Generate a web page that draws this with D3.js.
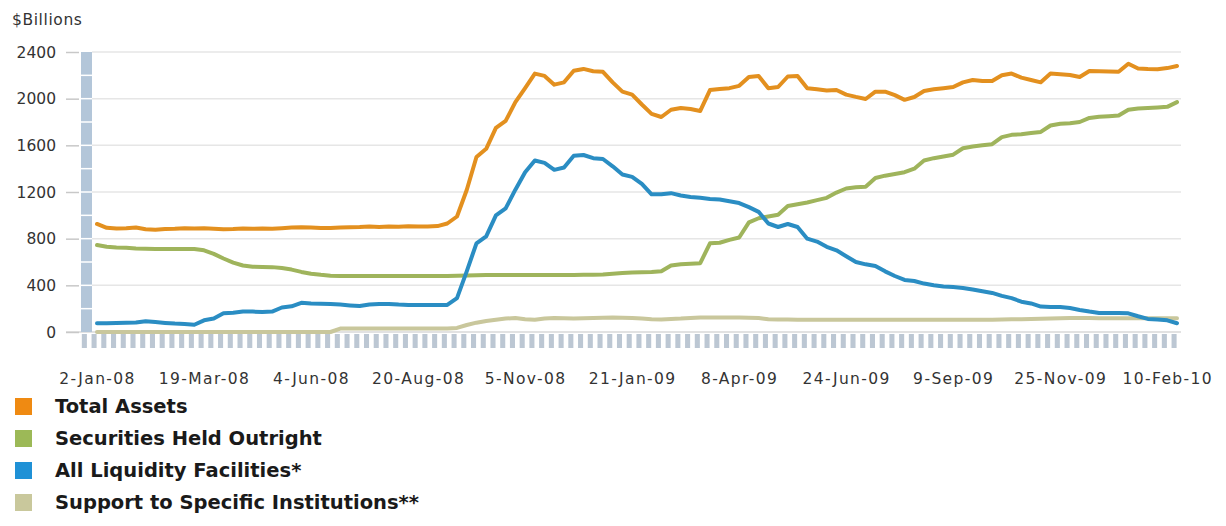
<!DOCTYPE html>
<html>
<head>
<meta charset="utf-8">
<script src="https://cdn.jsdelivr.net/npm/d3@7"></script>
<style>
  html, body { margin: 0; padding: 0; background: #ffffff; }
  svg { display: block; }
  text { font-family: "DejaVu Sans", Verdana, sans-serif; }
</style>
</head>
<body>
<svg id="chart" width="1226" height="526"></svg>
<script>
// ---------- data (weekly, Wednesdays, 2-Jan-08 .. 17-Feb-10) ----------
const startDate = "2008-01-02";
const seriesNames = ["Total Assets", "Securities Held Outright", "All Liquidity Facilities*", "Support to Specific Institutions**"];
const seriesColors = ["#e3901f", "#9fb45c", "#2a8dc3", "#c9c79c"];
const legendColors = ["#ef8a12", "#9cb957", "#1f91d6", "#c9c89c"];

const totalAssets = [926, 893, 888, 890, 895, 880, 876, 882, 885, 890, 888, 890, 885, 880, 882, 887, 884, 888, 885, 890, 895, 898, 895, 892, 892, 895, 897, 900, 905, 900, 905, 902, 907, 905, 905, 908, 930,
  990, 1217, 1500, 1570, 1750, 1810, 1970, 2090, 2215, 2195, 2120, 2140, 2240, 2255, 2235, 2230, 2140, 2060, 2035, 1950, 1870, 1843, 1905, 1920, 1911, 1895, 2074, 2083, 2090, 2110, 2185, 2194, 2090, 2100, 2190, 2195, 2090, 2080, 2070, 2074, 2035, 2015, 1997, 2060, 2060, 2030, 1990, 2014, 2066, 2080, 2090, 2100, 2140, 2160, 2151, 2151, 2200, 2215, 2180, 2160, 2140, 2215, 2210, 2203, 2186, 2237, 2235, 2232, 2230, 2300, 2258, 2254, 2252, 2262, 2280];

const securitiesHeld = [745, 730, 725, 722, 715, 713, 712, 712, 712, 712, 712,
  700, 670, 630, 595, 570, 560, 558, 556, 548, 535, 515, 500, 490, 483,
  480, 480, 480, 480, 480, 480, 480, 480, 480, 480, 480, 480, 482, 485, 487, 488, 489, 489, 489, 489, 489, 489, 489, 489, 489, 490, 490, 492,
  500, 505, 510, 512, 514, 520, 570, 580, 585, 590, 760, 765, 790, 810, 940, 975, 990, 1005, 1080, 1095, 1110, 1130, 1150, 1195, 1230, 1240, 1245, 1320, 1340, 1355, 1370, 1400, 1470, 1490, 1505, 1520, 1575, 1590, 1600, 1610, 1670, 1690, 1695, 1705, 1715, 1770, 1785, 1790, 1800, 1835, 1845, 1850, 1855, 1905, 1915, 1920, 1925, 1930, 1970];

const liquidityFacilities = [75, 75, 78, 80, 82, 92, 85, 78, 72, 68, 62,
  100, 115, 160, 165, 175, 175, 172, 175, 210, 220, 250, 245, 242, 240, 235, 228, 222, 235, 240, 240,
  235, 232, 232, 232, 232, 232, 290, 520, 760, 820, 1000, 1060, 1220, 1370, 1470, 1450, 1390, 1410, 1510, 1517, 1490, 1483, 1420, 1350, 1330, 1270, 1180, 1180, 1190, 1170, 1157, 1150, 1140, 1135, 1120, 1105, 1070, 1030, 930, 900, 926, 900, 800, 775, 730, 700, 650, 600, 580, 566, 520, 480, 446, 437, 415, 400, 390, 385, 378, 365, 350, 335, 310, 290, 260, 245, 218, 214, 214, 205, 189, 175, 163, 163, 163, 160, 135, 112, 108, 100, 75];

const supportInstitutions = [0, 0, 0, 0, 0, 0, 0, 0, 0, 0, 0, 0, 0, 0, 0, 0, 0, 0, 0, 0, 0, 0, 0, 0, 0,
  29, 29, 29, 29, 29, 29, 29, 29, 29, 29, 29, 29,
  35, 60, 80, 95, 105, 115, 120, 110, 105, 115, 120, 118, 115, 118, 120, 122, 125, 122, 120, 115, 110, 108, 112, 115, 120, 125, 125, 125, 125, 125, 122, 120, 110,
  108, 108, 106, 106, 106, 106, 106, 106, 106, 106, 106, 106, 106, 106, 106, 106, 106, 106, 106, 106, 106, 106, 106, 108, 110, 110, 112, 114, 116, 118, 120, 120, 120, 118, 118, 118, 118, 118, 118, 118, 118, 118];

const xTickLabels = ["2-Jan-08", "19-Mar-08", "4-Jun-08", "20-Aug-08", "5-Nov-08", "21-Jan-09", "8-Apr-09", "24-Jun-09", "9-Sep-09", "25-Nov-09", "10-Feb-10"];
const xTickWeeks = [0, 11, 22, 33, 44, 55, 66, 77, 88, 99, 110];
const yTicks = [0, 400, 800, 1200, 1600, 2000, 2400];
const yMinorTicks = [0, 200, 400, 600, 800, 1000, 1200, 1400, 1600, 1800, 2000, 2200, 2400];
const yUnitLabel = "$Billions";

// ---------- layout ----------
const svg = d3.select("#chart");
const nWeeks = totalAssets.length;
const t0 = d3.timeParse("%Y-%m-%d")(startDate);
const dates = d3.range(nWeeks).map(i => d3.timeWeek.offset(t0, i));

const x = d3.scaleTime().domain([dates[0], dates[nWeeks - 1]]).range([97, 1177]);
const y = d3.scaleLinear().domain([0, 2400]).range([332, 52]);
const weekW = x(dates[1]) - x(dates[0]);

// unit label
svg.append("text").attr("x", 12).attr("y", 25)
  .attr("font-size", 15.5).attr("fill", "#333").attr("letter-spacing", 0.6)
  .text(yUnitLabel);

// gridlines
svg.append("g").selectAll("line").data(yTicks.filter(d => d > 0)).join("line")
  .attr("x1", 92).attr("x2", 1181)
  .attr("y1", d => y(d)).attr("y2", d => y(d))
  .attr("stroke", "#e6e6e6").attr("stroke-width", 1.5);

// baseline
svg.append("line").attr("x1", 66).attr("x2", 1181).attr("y1", y(0)).attr("y2", y(0))
  .attr("stroke", "#d8d8d8").attr("stroke-width", 1.5);

// left vertical bar
svg.append("rect").attr("x", 81).attr("y", y(2400)).attr("width", 11).attr("height", y(0) - y(2400))
  .attr("fill", "#b3c6d9");
svg.append("g").selectAll("line").data(yMinorTicks.filter(d => d > 0 && d < 2400)).join("line")
  .attr("x1", 81).attr("x2", 92).attr("y1", d => y(d)).attr("y2", d => y(d))
  .attr("stroke", "#ffffff").attr("stroke-width", 1.5);

// y axis
const yAxis = d3.axisLeft(y).tickValues(yTicks).tickSize(13).tickPadding(10).tickFormat(d3.format("d"));
const gy = svg.append("g").attr("transform", "translate(79,0)").call(yAxis);
gy.select(".domain").remove();
gy.selectAll(".tick line").attr("stroke", "#c8c8c8").attr("stroke-width", 1.5);
gy.selectAll(".tick text").attr("font-family", "DejaVu Sans, sans-serif").attr("font-size", 15.5)
  .attr("fill", "#333").attr("dy", "0.34em");

// bottom strip of week markers
const stripDates = [d3.timeWeek.offset(t0, -1)].concat(dates);
svg.append("g").selectAll("rect").data(stripDates).join("rect")
  .attr("x", d => x(d) - weekW * 0.56).attr("y", 334)
  .attr("width", weekW * 0.52).attr("height", 14)
  .attr("fill", "#bcc7d3");

// x axis
const xAxis = d3.axisBottom(x).tickValues(xTickWeeks.map(i => dates[i]))
  .tickSize(0).tickPadding(0).tickFormat((d, i) => xTickLabels[i]);
const gx = svg.append("g").attr("transform", "translate(0,373)").call(xAxis);
gx.select(".domain").remove();
gx.selectAll(".tick text").attr("font-family", "DejaVu Sans, sans-serif").attr("font-size", 15.5)
  .attr("fill", "#333").attr("letter-spacing", 1.4).attr("dy", "0.71em");

// lines
const allSeries = [totalAssets, securitiesHeld, liquidityFacilities, supportInstitutions];
const line = d3.line().x((d, i) => x(dates[i])).y(d => y(d)).curve(d3.curveLinear);
const drawOrder = [3, 1, 2, 0];
svg.append("g").selectAll("path").data(drawOrder).join("path")
  .attr("d", k => line(allSeries[k]))
  .attr("fill", "none").attr("stroke", k => seriesColors[k])
  .attr("stroke-width", 4).attr("stroke-linejoin", "round").attr("stroke-linecap", "round");

// legend
const lg = svg.append("g").selectAll("g").data(seriesNames).join("g")
  .attr("transform", (d, i) => `translate(0,${406 + i * 32})`);
lg.append("rect").attr("x", 15).attr("y", -8).attr("width", 17).attr("height", 17)
  .attr("fill", (d, i) => legendColors[i]);
lg.append("text").attr("x", 55).attr("y", 0).attr("dy", "0.35em")
  .attr("font-size", 19.5).attr("font-weight", "bold").attr("fill", "#1a1a1a")
  .text(d => d);
</script>
</body>
</html>
